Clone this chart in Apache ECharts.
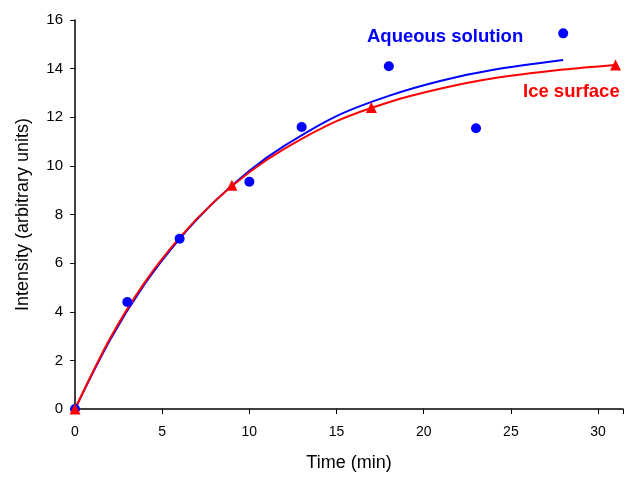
<!DOCTYPE html>
<html>
<head>
<meta charset="utf-8">
<script src="https://cdn.jsdelivr.net/npm/echarts@6/dist/echarts.min.js"></script>
<style>
  html, body { margin: 0; padding: 0; background: #fff; overflow: hidden; }
  #chart { width: 626px; height: 477px; }
</style>
</head>
<body>
<div id="chart"></div>
<script>
// measured points
var aqueousPts = [[0, 0], [3, 4.4], [6, 7.0], [10, 9.35], [13, 11.6], [18, 14.1], [23, 11.55], [28, 15.45]];
var icePts = [[0, 0], [9, 9.2], [17, 12.4], [31, 14.15]];

// fitted curves
var aqueousFit = [[0, 0], [2, 2.83], [4, 5.14], [6, 7.0], [8, 8.53], [10, 9.8], [12, 10.82], [15, 12.05], [18, 12.88], [21, 13.5], [24, 13.95], [28, 14.35]];
var iceFit = [[0, 0], [2, 2.89], [4, 5.21], [6, 7.05], [8, 8.54], [10, 9.74], [12, 10.7], [15, 11.84], [18, 12.62], [21, 13.18], [24, 13.6], [28, 13.96], [31, 14.15]];

var xTicks = [0, 5, 10, 15, 20, 25, 30];

var myChart = echarts.init(document.getElementById('chart'));
var option = {
    animation: false,
    textStyle: { fontFamily: 'Liberation Sans, Arial, sans-serif' },
    grid: {
        left: 75,
        right: 0,
        top: 20,
        bottom: 65
    },
    xAxis: {
        type: 'value',
        min: 0,
        max: 31.43,
        interval: 5,
        name: 'Time (min)',
        nameLocation: 'middle',
        nameGap: 45,
        nameTextStyle: { color: '#000', fontSize: 18 },
        axisLine: { lineStyle: { color: '#000', width: 1.5 } },
        axisTick: { show: true, length: 5, lineStyle: { color: '#000' } },
        axisLabel: {
            color: '#000',
            fontSize: 14,
            margin: 16,
            formatter: function (v) { return xTicks.indexOf(v) >= 0 ? v : ''; }
        },
        splitLine: { show: false }
    },
    yAxis: {
        type: 'value',
        min: 0,
        max: 16,
        interval: 2,
        name: 'Intensity (arbitrary units)',
        nameLocation: 'middle',
        nameGap: 43,
        nameTextStyle: { color: '#000', fontSize: 18 },
        axisLine: { show: true, lineStyle: { color: '#000', width: 1.5 } },
        axisTick: { show: true, length: 5, lineStyle: { color: '#000' } },
        axisLabel: { color: '#000', fontSize: 15, margin: 12 },
        splitLine: { show: false }
    },
    graphic: [
        {
            type: 'text',
            left: 367,
            top: 27,
            style: { text: 'Aqueous solution', fill: '#0000ff', fontSize: 18.5, fontWeight: 'bold', fontFamily: 'Liberation Sans, Arial, sans-serif' }
        },
        {
            type: 'text',
            left: 523,
            top: 82,
            style: { text: 'Ice surface', fill: '#ff0000', fontSize: 18.5, fontWeight: 'bold', fontFamily: 'Liberation Sans, Arial, sans-serif' }
        }
    ],
    series: [
        {
            name: 'Aqueous fit',
            type: 'line',
            data: aqueousFit,
            smooth: 0.3,
            showSymbol: false,
            lineStyle: { color: '#0000ff', width: 2 },
            z: 2
        },
        {
            name: 'Ice fit',
            type: 'line',
            data: iceFit,
            smooth: 0.3,
            showSymbol: false,
            lineStyle: { color: '#ff0000', width: 2 },
            z: 3
        },
        {
            name: 'Aqueous solution',
            type: 'scatter',
            data: aqueousPts,
            symbol: 'circle',
            symbolSize: 10,
            itemStyle: { color: '#0000ff', opacity: 1 },
            z: 4
        },
        {
            name: 'Ice surface',
            type: 'scatter',
            data: icePts,
            symbol: 'triangle',
            symbolSize: 11,
            itemStyle: { color: '#ff0000', opacity: 1 },
            z: 5
        }
    ]
};
myChart.setOption(option);

window.addEventListener('resize', function () {
    myChart.resize();
});
</script>
</body>
</html>
